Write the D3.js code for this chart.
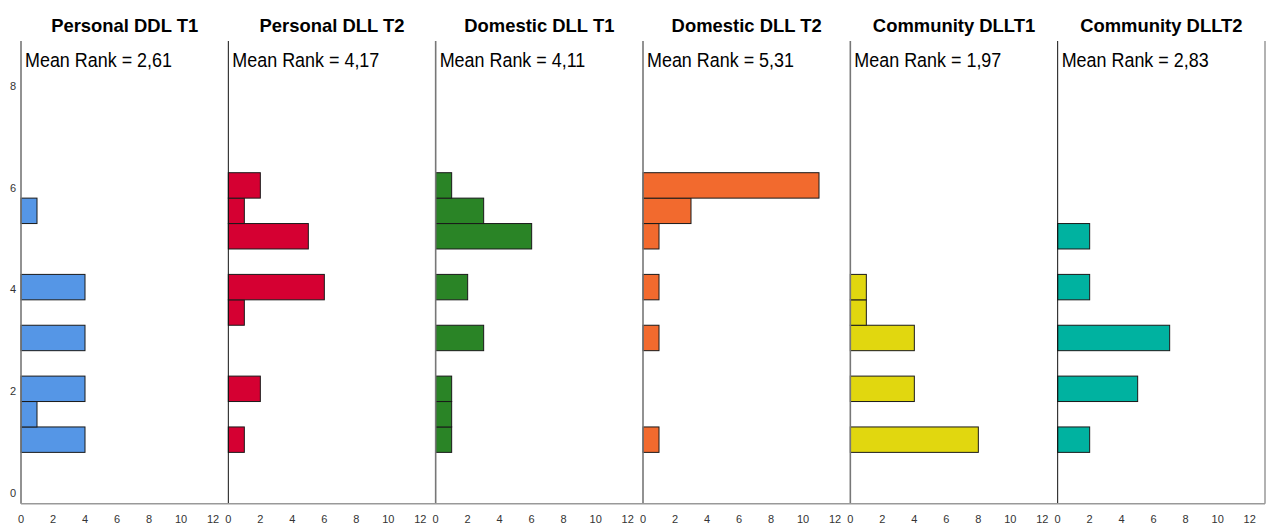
<!DOCTYPE html>
<html>
<head>
<meta charset="utf-8">
<script src="https://cdn.jsdelivr.net/npm/d3@7"></script>
<style>
  html, body { margin: 0; padding: 0; background: #fff; }
  svg { display: block; font-family: "Liberation Sans", Arial, sans-serif; }
</style>
</head>
<body>
<svg id="chart" width="1269" height="523"></svg>
<script>
// ---- data ----
const panelTitles = ["Personal DDL T1", "Personal DLL T2", "Domestic DLL T1", "Domestic DLL T2", "Community DLLT1", "Community DLLT2"];
const meanRanks = ["2,61", "4,17", "4,11", "5,31", "1,97", "2,83"];
const rankBins = [1, 1.5, 2, 2.5, 3, 3.5, 4, 4.5, 5, 5.5, 6];
const personalT1  = [4, 1, 4, 0, 4, 0, 4, 0, 0, 1, 0];
const personalT2  = [1, 0, 2, 0, 0, 1, 6, 0, 5, 1, 2];
const domesticT1  = [1, 1, 1, 0, 3, 0, 2, 0, 6, 3, 1];
const domesticT2  = [1, 0, 0, 0, 1, 0, 1, 0, 1, 3, 11];
const communityT1 = [8, 0, 4, 0, 4, 1, 1, 0, 0, 0, 0];
const communityT2 = [2, 0, 5, 0, 7, 0, 2, 0, 2, 0, 0];
const panelColors = ["#5596E6", "#D50032", "#2A8426", "#F26A2E", "#E1D70F", "#00B2A0"];
const xTicks = [0, 2, 4, 6, 8, 10, 12];
const yTicks = [0, 2, 4, 6, 8];

const seriesList = [personalT1, personalT2, domesticT1, domesticT2, communityT1, communityT2];

// ---- layout ----
const svg = d3.select("#chart");
const plotLeft = 21, plotRight = 1265, plotTop = 41, plotBottom = 503.7;
const nPanels = panelTitles.length;
const panelW = (plotRight - plotLeft) / nPanels;
const binHalf = 0.25, binOffset = 0.045;

const panelScale = d3.scaleBand().domain(d3.range(nPanels)).range([plotLeft, plotRight]).padding(0);
const y = d3.scaleLinear().domain([0, 8]).range([492.8, 86]);
const x = d3.scaleLinear().domain([0, 12]).range([0, 192]);

// y tick labels
svg.append("g").selectAll("text").data(yTicks).join("text")
  .attr("x", 13).attr("y", d => y(d))
  .attr("text-anchor", "middle").attr("dominant-baseline", "central")
  .attr("font-size", 11).attr("fill", "#333")
  .text(d => d);

panelTitles.forEach((title, i) => {
  const left = panelScale(i);
  const g = svg.append("g").attr("transform", `translate(${left},0)`);
  const data = rankBins.map((r, k) => ({ r, v: seriesList[i][k] })).filter(d => d.v > 0);

  // bars
  g.selectAll("rect").data(data).join("rect")
    .attr("x", 0)
    .attr("y", d => y(d.r + binHalf + binOffset))
    .attr("width", d => x(d.v))
    .attr("height", d => y(d.r - binHalf + binOffset) - y(d.r + binHalf + binOffset))
    .attr("fill", panelColors[i])
    .attr("stroke", "#1a1a1a").attr("stroke-width", 1);

  // panel left line
  g.append("line").attr("x1", 0).attr("x2", 0)
    .attr("y1", plotTop).attr("y2", plotBottom)
    .attr("stroke", (i === 1 || i === 5) ? "#111" : "#777")
    .attr("stroke-width", (i === 1 || i === 5) ? 1 : 1.6);

  // x tick labels
  g.selectAll("text.xt").data(xTicks).join("text").attr("class", "xt")
    .attr("x", d => x(d)).attr("y", 522.5)
    .attr("text-anchor", "middle")
    .attr("font-size", 11).attr("fill", "#333")
    .text(d => d);

  // title
  g.append("text")
    .attr("transform", `translate(${panelW / 2},31.5) scale(0.97,1)`)
    .attr("text-anchor", "middle")
    .attr("font-size", 19).attr("font-weight", "bold").attr("fill", "#000")
    .text(title);

  // mean rank
  g.append("text")
    .attr("transform", `translate(4,67) scale(0.92,1)`)
    .attr("font-size", 19.5).attr("fill", "#000")
    .text(`Mean Rank = ${meanRanks[i]}`);
});

// right border and bottom axis
svg.append("line").attr("x1", plotRight).attr("x2", plotRight)
  .attr("y1", plotTop).attr("y2", plotBottom)
  .attr("stroke", "#999").attr("stroke-width", 1.5);
svg.append("line").attr("x1", plotLeft).attr("x2", plotRight)
  .attr("y1", plotBottom).attr("y2", plotBottom)
  .attr("stroke", "#999").attr("stroke-width", 1.6);
</script>
</body>
</html>
